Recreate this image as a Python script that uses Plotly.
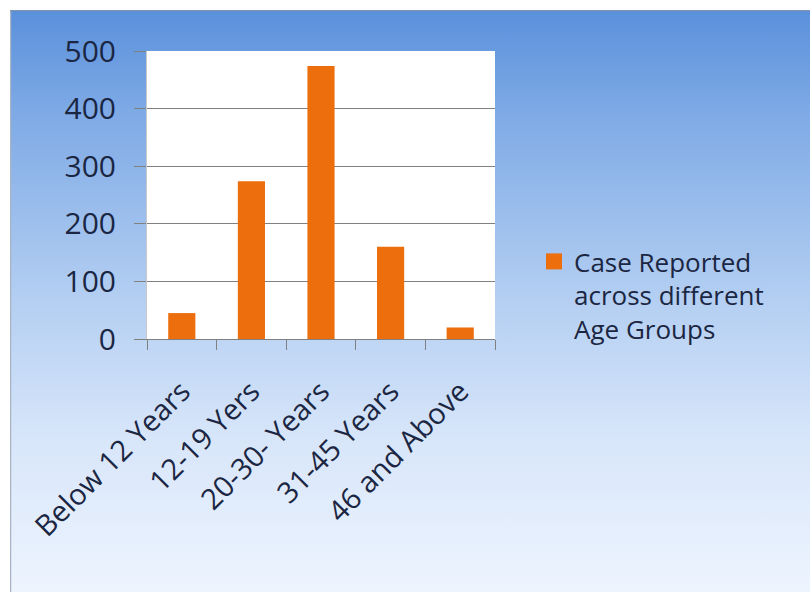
import base64
import plotly.graph_objects as go

categories = ["Below 12 Years", "12-19 Yers", "20-30- Years", "31-45 Years", "46 and Above"]
cases = [45, 274, 474, 160, 20]
series_name = "Case Reported<br>across different<br>Age Groups"
y_ticks = [0, 100, 200, 300, 400, 500]

W, H = 810, 592
L, R, T, B = 147, 315, 51, 253
pw, ph = W - L - R, H - T - B

BAR = "#EC6E0C"
GRID = "#808080"
TXT = "#1B2642"
FONT = "Open Sans"

svg = f"""<svg xmlns='http://www.w3.org/2000/svg' width='{W}' height='{H}' preserveAspectRatio='none'>
<defs><linearGradient id='g' x1='0' y1='0' x2='0' y2='1'>
<stop offset='0' stop-color='#5A90DB'/>
<stop offset='0.17' stop-color='#7DA9E5'/>
<stop offset='0.5' stop-color='#B4CFF2'/>
<stop offset='0.74' stop-color='#D8E6FA'/>
<stop offset='1' stop-color='#EDF4FE'/>
</linearGradient></defs>
<rect x='0' y='0' width='{W}' height='{H}' fill='url(#g)'/>
<line x1='0.5' y1='0' x2='0.5' y2='{H}' stroke='#A8B4C4' stroke-width='1.5'/>
<line x1='0' y1='0.5' x2='{W}' y2='0.5' stroke='#7F94B0' stroke-width='1.5'/>
</svg>"""
src = "data:image/svg+xml;base64," + base64.b64encode(svg.encode()).decode()

# background frame region in paper coordinates (10px white margin top/left)
fx0 = (10 - L) / pw
fx1 = (W - L) / pw
fy1 = (H - 10 - B) / ph  # top
fy0 = (0 - B) / ph

fig = go.Figure()
fig.add_trace(go.Bar(
    x=categories, y=cases, marker=dict(color=BAR, line=dict(width=0)),
    width=0.39, showlegend=False,
))
fig.add_trace(go.Scatter(
    x=[None], y=[None], mode="markers", name=series_name,
    marker=dict(symbol="square", size=16, color=BAR),
))

fig.add_layout_image(dict(
    source=src, xref="paper", yref="paper", x=fx0, y=fy1,
    sizex=fx1 - fx0, sizey=fy1 - fy0, sizing="stretch",
    xanchor="left", yanchor="top", layer="below",
))
fig.add_shape(type="rect", xref="x domain", yref="y domain", x0=0, x1=1, y0=0, y1=1,
              fillcolor="white", line=dict(width=0), layer="below")

fig.update_layout(
    width=W, height=H,
    margin=dict(l=L, r=R, t=T, b=B, pad=0),
    paper_bgcolor="white", plot_bgcolor="white",
    font=dict(family=FONT, color=TXT),
    showlegend=True,
    legend=dict(
        x=(534 - L) / pw, y=(H - 238 - B) / ph, xanchor="left", yanchor="top",
        bgcolor="rgba(0,0,0,0)", font=dict(size=26, color=TXT, family=FONT),
        itemsizing="trace", valign="top", tracegroupgap=0,
    ),
    xaxis=dict(
        type="category", tickangle=-45, tickfont=dict(size=29, color=TXT),
        showline=True, linecolor=GRID, linewidth=1,
        ticks="outside", tickson="boundaries", ticklen=10, tickcolor=GRID,
        showgrid=False, range=[-0.5, 4.5], fixedrange=True,
        ticklabelstandoff=23,
    ),
    yaxis=dict(
        range=[0, 500], tickvals=y_ticks, tickfont=dict(size=30, color=TXT),
        showgrid=True, gridcolor=GRID, gridwidth=1,
        ticks="outside", ticklen=12, tickcolor=GRID,
        showline=True, linecolor="#C8C8C8", linewidth=1,
        zeroline=False, ticklabelstandoff=12, fixedrange=True,
    ),
    bargap=0.61,
)

fig.write_html("out.html")
